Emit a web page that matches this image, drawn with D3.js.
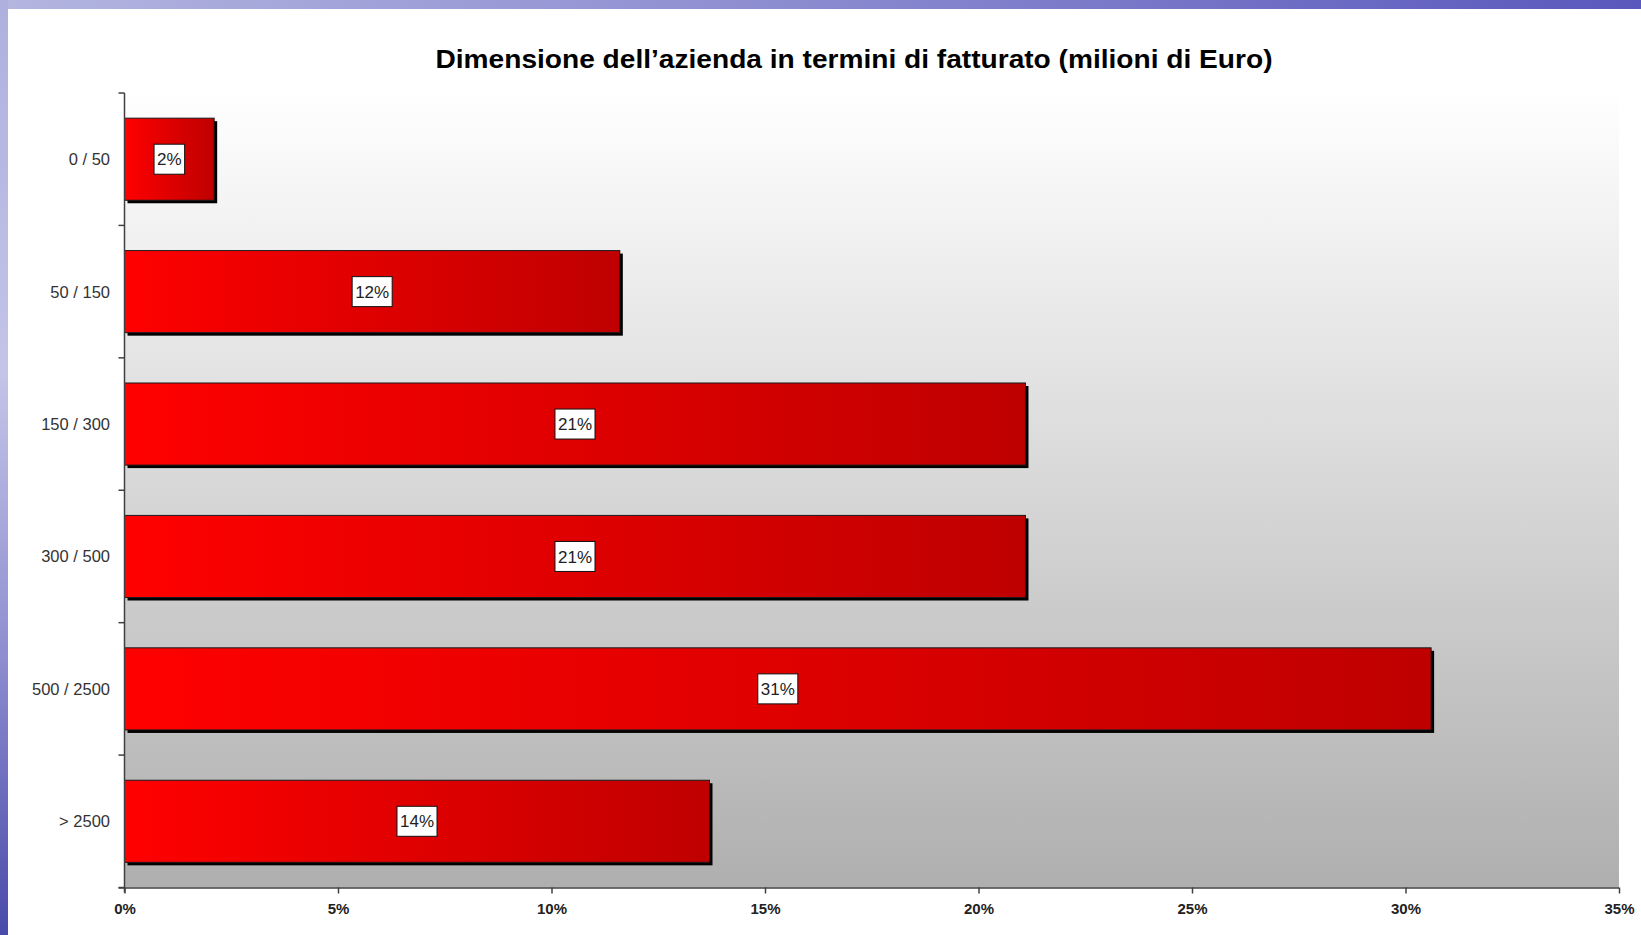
<!DOCTYPE html>
<html>
<head>
<meta charset="utf-8">
<script src="https://cdn.jsdelivr.net/npm/d3@7"></script>
<style>
  html, body { margin: 0; padding: 0; background: #ffffff; overflow: hidden; }
  svg { display: block; }
</style>
</head>
<body>
<svg id="chart" width="1641" height="935"></svg>
<script>
// Revenue bands (millions of euro) and share of companies in each band
const categories = ["0 / 50", "50 / 150", "150 / 300", "300 / 500", "500 / 2500", "> 2500"];
const shares = [0.021, 0.116, 0.211, 0.211, 0.306, 0.137];
const xTicks = [0, 0.05, 0.10, 0.15, 0.20, 0.25, 0.30, 0.35];
const title = "Dimensione dell\u2019azienda in termini di fatturato (milioni di Euro)";

const W = 1641, H = 935;
const plot = { left: 124.5, right: 1619, top: 93, bottom: 887.5 };

const svg = d3.select("#chart");
const defs = svg.append("defs");

// Slide frame: lavender strips on top and left edges
const sideGrad = defs.append("linearGradient").attr("id", "sideGrad")
  .attr("x1", 0).attr("y1", 0).attr("x2", 0).attr("y2", 1);
sideGrad.append("stop").attr("offset", "0%").attr("stop-color", "#aeb0de");
sideGrad.append("stop").attr("offset", "40%").attr("stop-color", "#c4c4e8");
sideGrad.append("stop").attr("offset", "70%").attr("stop-color", "#8e8ed0");
sideGrad.append("stop").attr("offset", "100%").attr("stop-color", "#4a4aaa");

const topGrad = defs.append("linearGradient").attr("id", "topGrad")
  .attr("x1", 0).attr("y1", 0).attr("x2", 1).attr("y2", 0);
topGrad.append("stop").attr("offset", "0%").attr("stop-color", "#b4b6e0");
topGrad.append("stop").attr("offset", "50%").attr("stop-color", "#8a8ad0");
topGrad.append("stop").attr("offset", "100%").attr("stop-color", "#5a58bc");

svg.append("rect").attr("x", 0).attr("y", 0).attr("width", W).attr("height", H).attr("fill", "#ffffff");
svg.append("rect").attr("x", 0).attr("y", 0).attr("width", W).attr("height", 9).attr("fill", "url(#topGrad)");
svg.append("rect").attr("x", 0).attr("y", 0).attr("width", 8).attr("height", H).attr("fill", "url(#sideGrad)");

// Plot background: white fading to grey toward the axis
const bgGrad = defs.append("linearGradient").attr("id", "bgGrad")
  .attr("x1", 0).attr("y1", 0).attr("x2", 0).attr("y2", 1);
bgGrad.append("stop").attr("offset", "0%").attr("stop-color", "#ffffff");
bgGrad.append("stop").attr("offset", "100%").attr("stop-color", "#afafaf");

// Bar fill: bright red on the left, darker red on the right
const barGrad = defs.append("linearGradient").attr("id", "barGrad")
  .attr("x1", 0).attr("y1", 0).attr("x2", 1).attr("y2", 0);
barGrad.append("stop").attr("offset", "0%").attr("stop-color", "#ff0000");
barGrad.append("stop").attr("offset", "100%").attr("stop-color", "#bf0000");

const x = d3.scaleLinear().domain([0, 0.35]).range([plot.left, plot.right]);
const y = d3.scaleBand().domain(categories).range([plot.top, plot.bottom])
  .paddingInner(0.38).paddingOuter(0.19);

svg.append("rect")
  .attr("x", plot.left).attr("y", plot.top)
  .attr("width", plot.right - plot.left).attr("height", plot.bottom - plot.top)
  .attr("fill", "url(#bgGrad)");

// Title
svg.append("text")
  .attr("x", 854).attr("y", 68)
  .attr("text-anchor", "middle")
  .attr("font-family", "'Liberation Sans', Arial, sans-serif")
  .attr("font-weight", "bold")
  .attr("font-size", 25)
  .attr("fill", "#000")
  .attr("textLength", 837)
  .attr("lengthAdjust", "spacingAndGlyphs")
  .text(title);

// Bars with drop shadow
const bars = svg.append("g");
bars.selectAll("rect.shadow").data(shares).join("rect")
  .attr("class", "shadow")
  .attr("x", x(0) + 3)
  .attr("y", (d, i) => y(categories[i]) + 3)
  .attr("width", d => x(d) - x(0))
  .attr("height", y.bandwidth())
  .attr("fill", "#000");

bars.selectAll("rect.bar").data(shares).join("rect")
  .attr("class", "bar")
  .attr("x", x(0))
  .attr("y", (d, i) => y(categories[i]))
  .attr("width", d => x(d) - x(0))
  .attr("height", y.bandwidth())
  .attr("fill", "url(#barGrad)")
  .attr("stroke", "#1a1a1a")
  .attr("stroke-width", 1);

// Value labels in white boxes
const fmt = d3.format(".0%");
const lbl = svg.append("g").selectAll("g").data(shares).join("g")
  .attr("transform", (d, i) => `translate(${(x(0) + x(d)) / 2},${y(categories[i]) + y.bandwidth() / 2})`);
lbl.append("text")
  .attr("text-anchor", "middle")
  .attr("dy", "0.36em")
  .attr("font-family", "'Liberation Sans', Arial, sans-serif")
  .attr("font-size", 17)
  .attr("fill", "#222")
  .text(d => fmt(d));
lbl.each(function () {
  const g = d3.select(this);
  const b = g.select("text").node().getBBox();
  g.insert("rect", "text")
    .attr("x", b.x - 3).attr("y", -15)
    .attr("width", b.width + 6).attr("height", 30)
    .attr("fill", "#fff").attr("stroke", "#111").attr("stroke-width", 1);
});

// Category axis: ticks at band boundaries
const yAxis = svg.append("g");
yAxis.append("line")
  .attr("x1", plot.left).attr("x2", plot.left)
  .attr("y1", plot.top).attr("y2", plot.bottom + 5)
  .attr("stroke", "#404040").attr("stroke-width", 1.5);
const bounds = categories.map(c => y(c) - y.step() * y.paddingInner() / 2);
bounds.push(plot.bottom);
yAxis.selectAll("line.tick").data(bounds).join("line")
  .attr("class", "tick")
  .attr("x1", plot.left - 6).attr("x2", plot.left)
  .attr("y1", d => d).attr("y2", d => d)
  .attr("stroke", "#404040").attr("stroke-width", 1.5);
yAxis.selectAll("text").data(categories).join("text")
  .attr("x", 110)
  .attr("y", d => y(d) + y.bandwidth() / 2)
  .attr("dy", "0.36em")
  .attr("text-anchor", "end")
  .attr("font-family", "'Liberation Sans', Arial, sans-serif")
  .attr("font-size", 16.5)
  .attr("fill", "#333")
  .text(d => d);

// Percentage axis
const xAxis = svg.append("g")
  .attr("transform", `translate(0,${plot.bottom})`)
  .call(d3.axisBottom(x).tickValues(xTicks).tickFormat(d3.format(".0%")).tickSizeOuter(0).tickSize(6).tickPadding(10));
xAxis.select(".domain").attr("stroke", "#404040").attr("stroke-width", 1.5)
  .attr("d", `M${plot.left - 6},0.5H${plot.right}`);
xAxis.selectAll(".tick line").attr("stroke", "#404040").attr("stroke-width", 1.5);
xAxis.selectAll(".tick text")
  .attr("font-family", "'Liberation Sans', Arial, sans-serif")
  .attr("font-weight", "bold")
  .attr("font-size", 15)
  .attr("fill", "#222");
</script>
</body>
</html>
